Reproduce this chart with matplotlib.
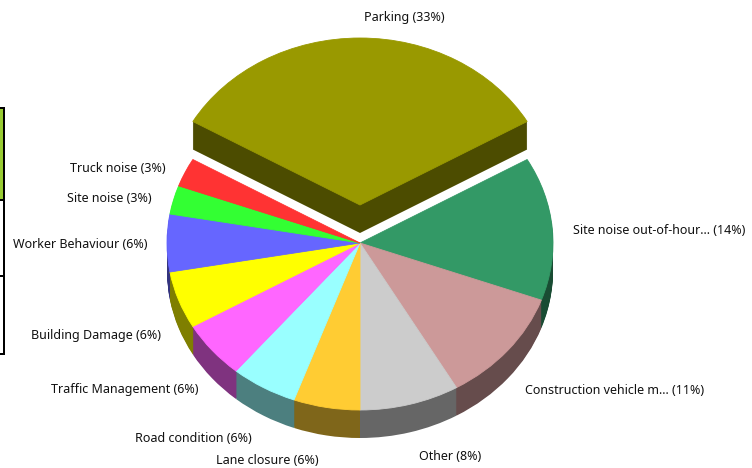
import matplotlib
matplotlib.use("Agg")
import matplotlib.pyplot as plt
from matplotlib.patches import Rectangle

plt.rcParams['font.family'] = ['Noto Sans', 'DejaVu Sans']

W, H = 752, 468
CX, CY, RX, RY = 360, 243, 193, 167
DEPTH, EXPLODE_PX = 28, 38

categories = ["Parking", "Site noise out-of-hour...", "Construction vehicle m...", "Other",
              "Lane closure", "Road condition", "Traffic Management", "Building Damage",
              "Worker Behaviour", "Site noise", "Truck noise"]
counts = [12, 5, 4, 3, 2, 2, 2, 2, 2, 1, 1]
percents = [33, 14, 11, 8, 6, 6, 6, 6, 6, 3, 3]
top_colors = ["#999900", "#339966", "#cc9999", "#cccccc", "#ffcc33", "#99ffff",
              "#ff66ff", "#ffff00", "#6666ff", "#33ff33", "#ff3333"]
side_colors = ["#4c4c00", "#194c33", "#664c4c", "#666666", "#7f661a", "#4c7f7f",
               "#7f337f", "#7f7f00", "#33337f", "#197f19", "#7f1919"]
label_left = [364, 573, 525, 419, 216, 135, 51, 31, 13, 67, 70]
label_y = [18, 230, 391, 457, 460, 439, 390, 335, 245, 199, 169]

fig = plt.figure(figsize=(W / 100, H / 100), dpi=100)
ax = fig.add_axes([0, 0, 1, 1])
explode = [EXPLODE_PX / RY] + [0] * (len(counts) - 1)

for d in range(DEPTH, 0, -1):
    ax.pie(counts, colors=side_colors, startangle=150, counterclock=False, explode=explode,
           center=(0, -d / RY), radius=1, wedgeprops={'linewidth': 0})
wedges, _ = ax.pie(counts, colors=top_colors, startangle=150, counterclock=False, explode=explode,
                   center=(0, 0), radius=1, wedgeprops={'linewidth': 0.6})
for wedge, colour in zip(wedges, top_colors):
    wedge.set_edgecolor(colour)
ax.set_aspect('auto')
ax.set_xlim(-CX / RX, (W - CX) / RX)
ax.set_ylim(-(H - CY) / RY, CY / RY)
ax.axis('off')

for name, pct, x, y in zip(categories, percents, label_left, label_y):
    fig.text(x / W, 1 - y / H, f"{name} ({pct}%)", fontsize=9, color="#111111",
             ha='left', va='center')


def cell(x0, y0, x1, y1, **kw):
    fig.add_artist(Rectangle((x0 / W, 1 - y1 / H), (x1 - x0) / W, (y1 - y0) / H,
                             transform=fig.transFigure, linewidth=0, **kw))


cell(0, 108, 3, 200, facecolor="#99cc33")
cell(0, 107, 3, 109, facecolor="black")
cell(0, 199, 3, 201, facecolor="black")
cell(0, 275, 3, 277, facecolor="black")
cell(0, 353, 3, 355, facecolor="black")
cell(2.5, 107, 4.5, 355, facecolor="black")

fig.savefig("out.png", dpi=100)
